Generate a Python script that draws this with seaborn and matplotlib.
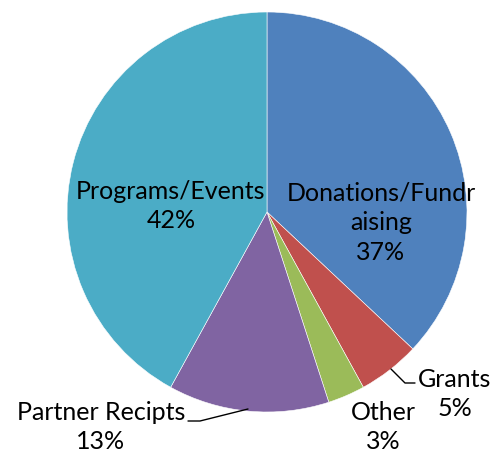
import matplotlib
matplotlib.use("Agg")
import matplotlib.pyplot as plt
import seaborn as sns

# -----------------------------
# Data
# -----------------------------
labels = ["Donations/Fundr\naising", "Grants", "Other", "Partner Recipts", "Programs/Events"]
shares = [37, 5, 3, 13, 42]
colors = ["#4F81BD", "#C0504D", "#9BBB59", "#8064A2", "#4BACC6"]

sns.set_style("white")
plt.rcParams["font.family"] = ["Lato", "DejaVu Sans"]

fig = plt.figure(figsize=(4.95, 4.61), dpi=100)
ax = fig.add_axes([0, 0, 1, 1])

wedges, _ = ax.pie(
    shares,
    colors=sns.color_palette(colors),
    startangle=90,
    counterclock=False,
    center=(267, 249),
    radius=200,
    frame=True,
    wedgeprops=dict(linewidth=0.4, edgecolor="white"),
)
ax.set_xlim(0, 495)
ax.set_ylim(0, 461)
ax.axis("off")

# label positions (pixel coords, y from bottom)
label_pos = [(381, 238), (455, 67), (383, 34), (101, 34), (171, 255)]
fs = 18
for lab, val, (x, y) in zip(labels, shares, label_pos):
    ax.text(x, y, f"{lab}\n{val}%", ha="center", va="center",
            fontsize=fs, color="black", linespacing=1.35)

# leader lines
ax.plot([391, 405, 415], [461 - 369, 461 - 383, 461 - 383], color="black", lw=1)
ax.plot([248, 200, 188], [461 - 409, 461 - 421, 461 - 421], color="black", lw=1)

fig.savefig("out.png", dpi=100)
